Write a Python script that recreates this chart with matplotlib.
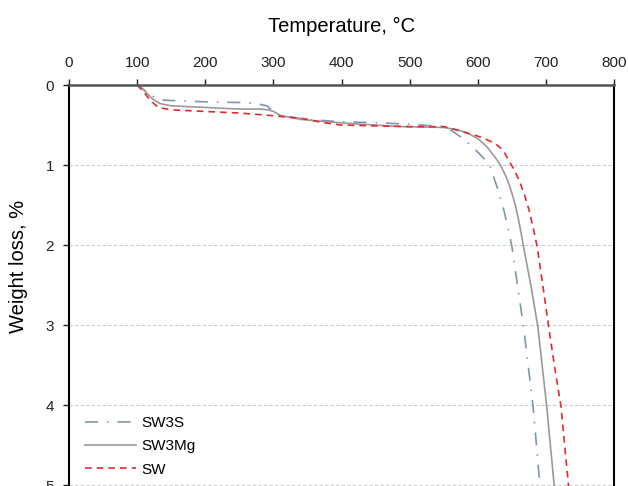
import matplotlib.pyplot as plt

plt.rcParams["font.family"] = ["Liberation Sans", "DejaVu Sans"]

# temperature (°C) / weight loss (%)
temp_sw3s = [48, 100, 110, 120, 130, 140, 200, 260, 280, 290, 300, 310, 350, 400, 450,
             500, 550, 560, 570, 580, 590, 600, 610, 618, 628, 638, 644, 650, 658, 667, 681, 692]
loss_sw3s = [0, 0, 0.06, 0.13, 0.17, 0.19, 0.21, 0.22, 0.24, 0.26, 0.33, 0.38, 0.43, 0.46, 0.47,
             0.49, 0.52, 0.56, 0.62, 0.68, 0.76, 0.84, 0.93, 1.02, 1.27, 1.56, 1.78, 2.02, 2.50,
             3.02, 4.02, 5.10]

temp_sw3mg = [48, 100, 107, 114, 122, 133, 150, 200, 250, 280, 292, 300, 310, 340, 380, 430,
              490, 550, 570, 585, 600, 613, 625, 633, 640, 647, 655, 661, 667, 678, 688, 701, 713]
loss_sw3mg = [0, 0, 0.04, 0.10, 0.17, 0.23, 0.26, 0.28, 0.30, 0.30, 0.31, 0.33, 0.38, 0.43, 0.46, 0.49,
              0.52, 0.53, 0.56, 0.60, 0.67, 0.77, 0.90, 1.00, 1.12, 1.27, 1.50, 1.74, 2.02, 2.52, 3.02,
              4.02, 5.10]

temp_sw = [48, 100, 110, 119, 131, 150, 200, 250, 295, 320, 344, 373, 400, 450, 500, 550, 560, 572,
           584, 597, 610, 620, 628, 635, 640, 645, 652, 660, 668, 675, 681, 687, 696, 706, 714, 722, 734]
loss_sw = [0, 0, 0.09, 0.19, 0.28, 0.31, 0.33, 0.35, 0.38, 0.40, 0.42, 0.47, 0.50, 0.51, 0.52, 0.52,
           0.54, 0.57, 0.60, 0.63, 0.67, 0.71, 0.75, 0.80, 0.86, 0.94, 1.04, 1.18, 1.36, 1.56, 1.78,
           2.02, 2.55, 3.15, 3.60, 4.02, 5.10]

x_ticks = [0, 100, 200, 300, 400, 500, 600, 700, 800]
y_ticks = [0, 1, 2, 3, 4, 5]

fig = plt.figure(figsize=(6.28, 4.86), dpi=100)
# axes runs past the bottom edge: the reference is cropped just below 5 %
ax = fig.add_axes([0.110, -0.1626, 0.868, 0.9876])

ax.plot(temp_sw3s, loss_sw3s, color="#7f95b5", lw=1.2, dashes=(7.8, 5.4, 0.9, 5.4), label="SW3S")
ax.plot(temp_sw3mg, loss_sw3mg, color="#9a9a9a", lw=1.2, label="SW3Mg")
ax.plot(temp_sw, loss_sw, color="#e62a2a", lw=1.2, dashes=(4, 3), label="SW")

ax.set_xlim(0, 800)
ax.set_ylim(6, 0)
ax.set_xticks(x_ticks)
ax.set_yticks(y_ticks)
ax.xaxis.tick_top()
ax.xaxis.set_label_position("top")
ax.tick_params(axis="both", labelsize=11, length=4.3, width=1, direction="out", colors="#222222",
               pad=6.5)

ax.set_xlabel("Temperature, °C", fontsize=14.5, va="baseline")
ax.xaxis.set_label_coords(0.5, (565 - 31.7) / 480)
ax.set_ylabel("Weight loss, %", fontsize=14.5, va="center")
ax.yaxis.set_label_coords(-0.093, 0.623)

ax.grid(axis="y", color="#cccccc", lw=0.8, ls=(0, (3, 2)))
ax.set_axisbelow(True)

for side in ("left", "right"):
    ax.spines[side].set_color("black")
    ax.spines[side].set_linewidth(1.5)
ax.spines["top"].set_color("#555555")
ax.spines["top"].set_linewidth(1.8)
ax.spines["bottom"].set_visible(False)

ax.legend(loc="upper left", bbox_to_anchor=(0.03, 0.31), frameon=False, fontsize=11,
          handlelength=3.3, handletextpad=0.35, labelspacing=0.6, borderaxespad=0, borderpad=0)

fig.savefig("out.png", dpi=100)
